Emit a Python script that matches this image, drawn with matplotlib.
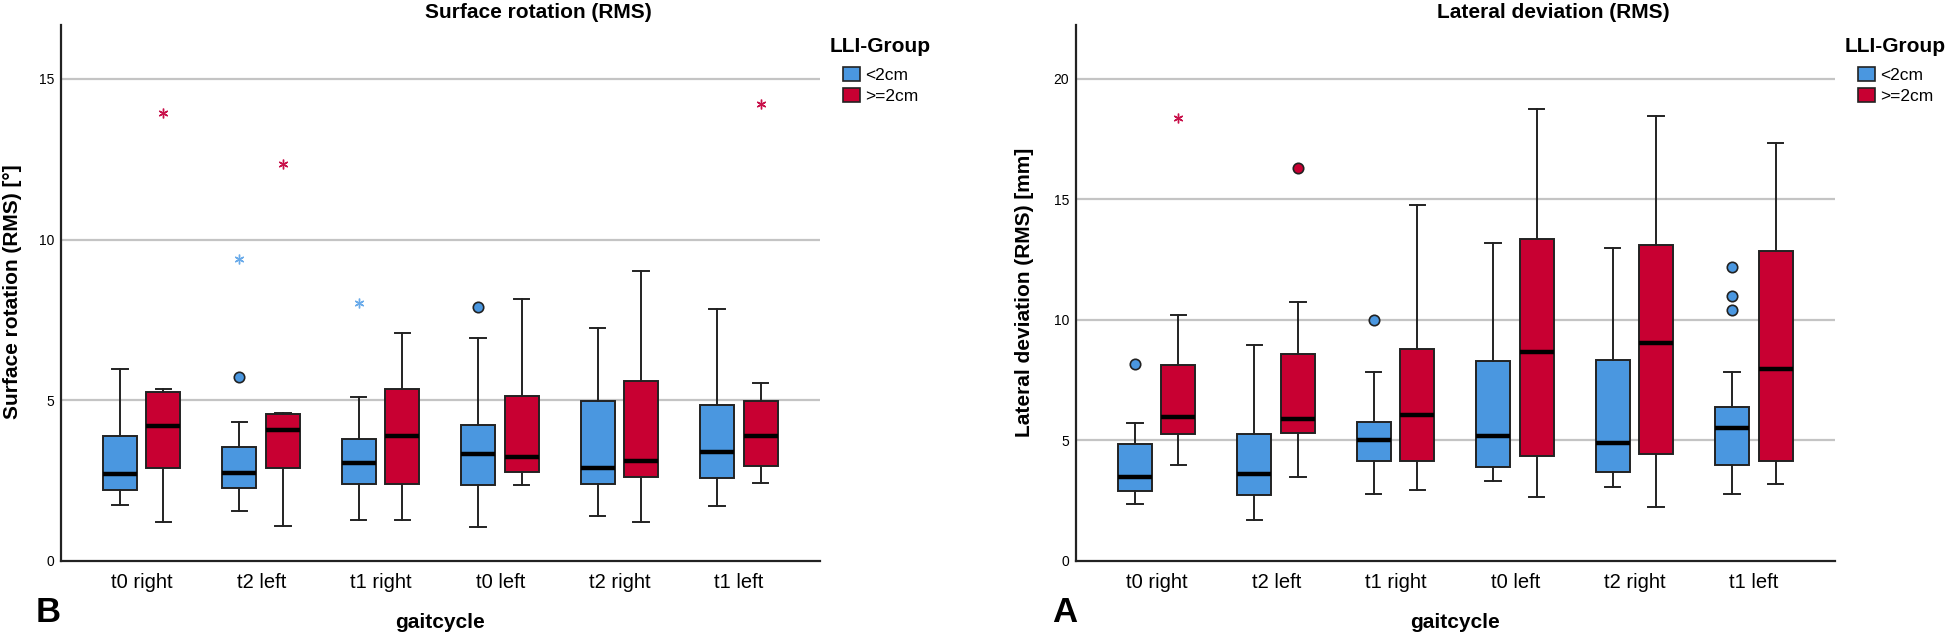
import matplotlib
matplotlib.use("Agg")
import matplotlib.pyplot as plt
from matplotlib.patches import Patch

plt.rcParams['font.family'] = ['Liberation Sans', 'DejaVu Sans']

categories = ["t0 right", "t2 left", "t1 right", "t0 left", "t2 right", "t1 left"]
groups = ["<2cm", ">=2cm"]

# ---- Surface rotation (RMS) ----
sr_lt2_whislo = [1.74, 1.55, 1.27, 1.07, 1.40, 1.71]
sr_lt2_q1     = [2.20, 2.27, 2.40, 2.37, 2.41, 2.58]
sr_lt2_med    = [2.70, 2.74, 3.04, 3.33, 2.89, 3.40]
sr_lt2_q3     = [3.90, 3.54, 3.80, 4.23, 4.97, 4.86]
sr_lt2_whishi = [5.96, 4.34, 5.09, 6.93, 7.25, 7.85]
sr_lt2_circles = {"t2 left": [5.73], "t0 left": [7.90]}
sr_lt2_stars   = {"t2 left": [9.41], "t1 right": [8.03]}

sr_ge2_whislo = [1.21, 1.10, 1.27, 2.38, 1.21, 2.44]
sr_ge2_q1     = [2.88, 2.89, 2.40, 2.77, 2.61, 2.96]
sr_ge2_med    = [4.19, 4.09, 3.88, 3.25, 3.12, 3.90]
sr_ge2_q3     = [5.27, 4.58, 5.34, 5.13, 5.61, 4.99]
sr_ge2_whishi = [5.35, 4.60, 7.10, 8.15, 9.04, 5.55]
sr_ge2_circles = {}
sr_ge2_stars   = {"t0 right": [13.93], "t2 left": [12.34], "t1 left": [14.23]}

# ---- Lateral deviation (RMS) ----
ld_lt2_whislo = [2.38, 1.70, 2.78, 3.31, 3.05, 2.79]
ld_lt2_q1     = [2.91, 2.74, 4.14, 3.88, 3.70, 3.98]
ld_lt2_med    = [3.48, 3.59, 5.01, 5.17, 4.88, 5.50]
ld_lt2_q3     = [4.86, 5.28, 5.78, 8.31, 8.35, 6.39]
ld_lt2_whishi = [5.71, 8.96, 7.85, 13.20, 12.98, 7.85]
ld_lt2_circles = {"t0 right": [8.19], "t1 right": [10.00], "t1 left": [12.20, 10.99, 10.40]}
ld_lt2_stars   = {}

ld_ge2_whislo = [3.98, 3.48, 2.94, 2.65, 2.24, 3.18]
ld_ge2_q1     = [5.29, 5.32, 4.14, 4.34, 4.43, 4.15]
ld_ge2_med    = [5.96, 5.89, 6.04, 8.68, 9.06, 7.95]
ld_ge2_q3     = [8.12, 8.59, 8.80, 13.34, 13.13, 12.87]
ld_ge2_whishi = [10.22, 10.76, 14.76, 18.77, 18.46, 17.36]
ld_ge2_circles = {"t2 left": [16.30]}
ld_ge2_stars   = {"t0 right": [18.39]}

BLUE = "#4A97E0"
RED = "#C80032"
BLUE_STAR = "#6AABEA"
RED_STAR = "#C8104A"
EDGE = "#222222"

W, H = 1952, 636
fig = plt.figure(figsize=(W / 100, H / 100), dpi=100)


def fx(px):
    return px / W


def fy(py):
    return 1 - py / H


def make_stats(whislo, q1, med, q3, whishi):
    return [dict(whislo=a, q1=b, med=c, q3=d, whishi=e, fliers=[])
            for a, b, c, d, e in zip(whislo, q1, med, q3, whishi)]


def draw_panel(ax, series, ymax, yticks):
    offsets = [-0.185, 0.18]
    colors = [BLUE, RED]
    star_colors = [BLUE_STAR, RED_STAR]
    for gi, (stats, circles, stars) in enumerate(series):
        pos = [i + offsets[gi] for i in range(len(categories))]
        ax.bxp(stats, positions=pos, widths=0.285, patch_artist=True,
               showfliers=False, manage_ticks=False,
               boxprops=dict(facecolor=colors[gi], edgecolor=EDGE, linewidth=1.4),
               medianprops=dict(color="black", linewidth=3.2, solid_capstyle="butt"),
               whiskerprops=dict(color=EDGE, linewidth=1.4),
               capprops=dict(color=EDGE, linewidth=1.4),
               capwidths=0.13)
        for i, cat in enumerate(categories):
            for v in circles.get(cat, []):
                ax.plot(pos[i], v, marker="o", markersize=7.5, markerfacecolor=colors[gi],
                        markeredgecolor=EDGE, markeredgewidth=1.2, linestyle="none", zorder=4)
            for v in stars.get(cat, []):
                ax.plot(pos[i], v, marker=(6, 2, 0), markersize=7, color=star_colors[gi],
                        markeredgewidth=1.0, linestyle="none", zorder=4)
    ax.set_xlim(-0.678, len(categories) - 1 + 0.678)
    ax.set_ylim(0, ymax)
    ax.set_xticks(range(len(categories)))
    ax.set_xticklabels(categories, fontsize=14.5)
    ax.set_yticks(yticks)
    ax.set_yticklabels([str(t) for t in yticks], fontsize=10)
    ax.tick_params(axis="both", length=0)
    ax.tick_params(axis="y", pad=5)
    ax.tick_params(axis="x", pad=9)
    for s in ["top", "right"]:
        ax.spines[s].set_visible(False)
    for s in ["left", "bottom"]:
        ax.spines[s].set_color(EDGE)
        ax.spines[s].set_linewidth(1.6)
    ax.set_axisbelow(True)
    ax.yaxis.grid(True, color="#C4C4C4", linewidth=1.6)
    ax.yaxis.get_gridlines()[0].set_visible(False)


ax1 = fig.add_axes([fx(61), fy(561), fx(820 - 61), (561 - 25) / H])
ax2 = fig.add_axes([fx(1076), fy(561), fx(1835 - 1076), (561 - 25) / H])

draw_panel(ax1,
           [(make_stats(sr_lt2_whislo, sr_lt2_q1, sr_lt2_med, sr_lt2_q3, sr_lt2_whishi), sr_lt2_circles, sr_lt2_stars),
            (make_stats(sr_ge2_whislo, sr_ge2_q1, sr_ge2_med, sr_ge2_q3, sr_ge2_whishi), sr_ge2_circles, sr_ge2_stars)],
           16.68, [0, 5, 10, 15])
draw_panel(ax2,
           [(make_stats(ld_lt2_whislo, ld_lt2_q1, ld_lt2_med, ld_lt2_q3, ld_lt2_whishi), ld_lt2_circles, ld_lt2_stars),
            (make_stats(ld_ge2_whislo, ld_ge2_q1, ld_ge2_med, ld_ge2_q3, ld_ge2_whishi), ld_ge2_circles, ld_ge2_stars)],
           22.24, [0, 5, 10, 15, 20])

# titles
fig.text(fx(538), fy(12), "Surface rotation (RMS)", ha="center", va="center", fontsize=15, fontweight="bold")
fig.text(fx(1553), fy(12), "Lateral deviation (RMS)", ha="center", va="center", fontsize=15, fontweight="bold")

# y labels
fig.text(fx(13), fy(292), "Surface rotation (RMS) [°]", rotation=90, ha="center", va="center",
         fontsize=15, fontweight="bold")
fig.text(fx(1025), fy(292), "Lateral deviation (RMS) [mm]", rotation=90, ha="center", va="center",
         fontsize=15, fontweight="bold")

# x labels
fig.text(fx(440), fy(622), "gaitcycle", ha="center", va="center", fontsize=15, fontweight="bold")
fig.text(fx(1455), fy(622), "gaitcycle", ha="center", va="center", fontsize=15, fontweight="bold")

# panel letters
fig.text(fx(48), fy(613), "B", ha="center", va="center", fontsize=25, fontweight="bold")
fig.text(fx(1065), fy(613), "A", ha="center", va="center", fontsize=25, fontweight="bold")

# legends
handles = [Patch(facecolor=BLUE, edgecolor=EDGE, linewidth=1.2, label=groups[0]),
           Patch(facecolor=RED, edgecolor=EDGE, linewidth=1.2, label=groups[1])]
for tx, px in [(830, 843), (1845, 1858)]:
    fig.text(fx(tx), fy(46), "LLI-Group", ha="left", va="center", fontsize=15, fontweight="bold")
    fig.legend(handles=handles, loc="upper left", bbox_to_anchor=(fx(px), fy(67)),
               frameon=False, fontsize=12.5, handlelength=1.0, handleheight=0.85,
               handletextpad=0.25, labelspacing=0.3, borderpad=0, borderaxespad=0)

fig.savefig("out.png", dpi=100)
